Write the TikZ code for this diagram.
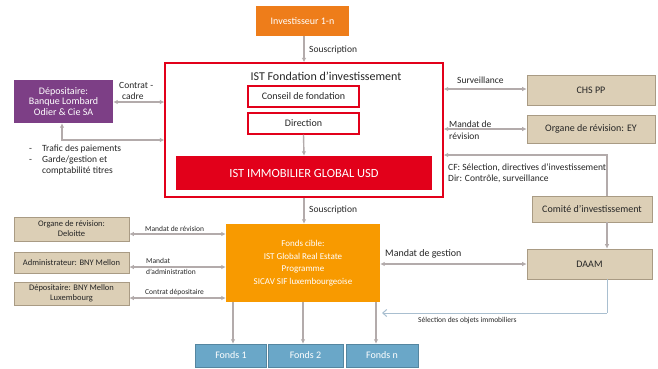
\documentclass[tikz,border=0pt]{standalone}
\usepackage{fontspec}
\setmainfont{Carlito}
\usetikzlibrary{arrows.meta}
\definecolor{lgrey}{HTML}{B3ABAB}
\definecolor{tan}{HTML}{DCCFB6}
\definecolor{tanb}{HTML}{A99B84}
\definecolor{ired}{HTML}{E2001A}
\definecolor{purp}{HTML}{7D3F86}
\definecolor{oinv}{HTML}{EE7D1A}
\definecolor{ofc}{HTML}{F89A00}
\definecolor{fblue}{HTML}{6AA7C8}
\definecolor{sblue}{HTML}{A9BFD0}
\definecolor{txt}{HTML}{262626}
\tikzset{
  tanbox/.style={draw=tanb, line width=0.6pt, fill=tan, inner sep=0pt, align=center, text=txt, font=\fontsize{10}{11}\selectfont},
  stanbox/.style={tanbox, font=\fontsize{8.5}{10}\selectfont},
  redbox/.style={draw=ired, line width=1.3pt, fill=white, inner sep=0pt, text=txt, font=\fontsize{10}{11}\selectfont},
  fbox/.style={fill=fblue, draw=fblue!80!black, line width=0.4pt, text=white, minimum height=23pt, inner sep=0pt, font=\fontsize{10}{11}\selectfont},
  ar/.style={draw=lgrey, line width=1.4pt, -{Latex[length=4.5pt,width=4.5pt]}},
  arr/.style={draw=lgrey, line width=1.4pt, {Latex[length=4.5pt,width=4.5pt]}-{Latex[length=4.5pt,width=4.5pt]}},
  lbl/.style={text=txt, inner sep=0pt, font=\fontsize{9.5}{11}\selectfont, align=left},
  slbl/.style={text=txt, inner sep=0pt, font=\fontsize{7.5}{8.5}\selectfont, align=left},
}
\begin{document}
\begin{tikzpicture}[x=1pt,y=-1pt]
\path[use as bounding box, fill=white] (0,0) rectangle (658,368);
% top investor
\node[fill=oinv, text=white, minimum width=93pt, minimum height=30pt, inner sep=0pt, font=\fontsize{10}{11}\selectfont] (inv) at (302.5,21) {Investisseur 1-n};
% big frame
\node[draw=ired, line width=1.3pt, minimum width=278pt, minimum height=134pt, inner sep=0pt] (frame) at (304,130) {};
\node[text=txt, inner sep=0pt, font=\fontsize{12}{13}\selectfont] (title) at (326,76) {IST Fondation d'investissement};
\node[redbox, minimum width=111pt, minimum height=21pt] (conseil) at (303.5,96.5) {Conseil de fondation};
\node[redbox, minimum width=111pt, minimum height=21pt] (direction) at (303.5,123.5) {Direction};
\node[fill=ired, text=white, minimum width=256pt, minimum height=34pt, inner sep=0pt, font=\fontsize{12.5}{14}\selectfont] (immo) at (304,173) {IST IMMOBILIER GLOBAL USD};
% left depositaire
\node[fill=purp, text=white, minimum width=99pt, minimum height=43pt, inner sep=0pt, align=center, font=\fontsize{10}{10.5}\selectfont] (lombard) at (63.5,101.5) {Dépositaire:\\Banque Lombard\\Odier \& Cie SA};
% right boxes
\node[tanbox, minimum width=128pt, minimum height=30pt] (chs) at (591,90) {CHS PP};
\node[tanbox, minimum width=128pt, minimum height=28pt] (ey) at (591,129) {Organe de révision: EY};
\node[tanbox, minimum width=120pt, minimum height=26pt] (comite) at (592,209) {Comité d'investissement};
\node[tanbox, minimum width=125pt, minimum height=30pt] (daam) at (589.5,264) {DAAM};
% target fund
\node[fill=ofc, text=white, minimum width=154pt, minimum height=78pt, inner sep=0pt, align=center, font=\fontsize{9}{12.5}\selectfont] (fc) at (303,263) {Fonds cible:\\IST Global Real Estate\\Programme\\SICAV SIF luxembourgeoise};
% left lower boxes
\node[stanbox, minimum width=115pt, minimum height=24pt] (deloitte) at (71.5,229) {Organe de révision:\\Deloitte};
\node[stanbox, minimum width=115pt, minimum height=21pt] (admin) at (71.5,262.5) {Administrateur: BNY Mellon};
\node[stanbox, minimum width=115pt, minimum height=23pt] (depbny) at (71.5,293.5) {Dépositaire: BNY Mellon\\Luxembourg};
% funds
\node[fbox, minimum width=71pt] (f1) at (231,355.5) {Fonds 1};
\node[fbox, minimum width=75pt] (f2) at (305.5,355.5) {Fonds 2};
\node[fbox, minimum width=72pt] (fn) at (382,355.5) {Fonds n};
% connectors top
\draw[ar] (inv.south -| 304,0) -- (frame.north -| 304,0);
\node[lbl, anchor=west] (sous1) at (309,50) {Souscription};
\draw[ar] (direction.south) -- (immo.north);
\draw[ar] (frame.south -| 304,0) -- (fc.north -| 304,0);
\node[lbl, anchor=west] (sous2) at (309,210) {Souscription};
% lombard
\draw[arr] (lombard.east |- 0,102) -- (frame.west |- 0,102);
\node[lbl, anchor=west] (contrat) at (119,85) {Contrat -};
\node[lbl, anchor=west] (cadre) at (122,96) {cadre};
\draw[arr] (lombard.south -| 62,0) |- (frame.west |- 0,140);
\node[lbl, anchor=west] (b1) at (29,150) {-};
\node[lbl, anchor=west] (b2) at (29,161) {-};
\node[lbl, anchor=north west, font=\fontsize{9.5}{11}\selectfont] (bullets) at (42,145) {Trafic des paiements\\Garde/gestion et\\comptabilité titres};
% right upper
\draw[arr] (frame.east |- 0,89) -- (chs.west |- 0,89);
\node[lbl, anchor=west] (surv) at (457,80) {Surveillance};
\draw[arr] (frame.east |- 0,129) -- (ey.west |- 0,129);
\node[lbl, anchor=west] (mandrev) at (449,124) {Mandat de};
\node[lbl, anchor=west] (mandrev2) at (449,136) {révision};
\draw[ar] (comite.north -| 607,0) |- (frame.east |- 0,155);
\node[lbl, anchor=north west] (cf) at (448,164) {CF: Sélection, directives d'investissement\\Dir: Contrôle, surveillance};
\draw[ar] (comite.south -| 607,0) -- (daam.north -| 607,0);
% mandat de gestion
\draw[arr] (fc.east |- 0,264) -- (daam.west |- 0,264);
\node[lbl, anchor=west, font=\fontsize{10}{11}\selectfont] (mges) at (385,254) {Mandat de gestion};
% selection
\coordinate (selend) at (382,313);
\draw[sblue, line width=1pt, dash pattern=on 1.5pt off 0.5pt, -{Straight Barb[length=4pt,width=7pt]}] (daam.south -| 607,0) |- (selend);
\node[slbl, anchor=west] (sel) at (418,321) {Sélection des objets immobiliers};
% left lower connectors
\draw[arr] (deloitte.east |- 0,234) -- (fc.west |- 0,234);
\node[slbl, anchor=west] (mdr) at (145,229) {Mandat de révision};
\draw[arr] (admin.east |- 0,267) -- (fc.west |- 0,267);
\node[slbl, anchor=west] (mda) at (146,261) {Mandat};
\node[slbl, anchor=west] (mda2) at (146,272) {d'administration};
\draw[arr] (depbny.east |- 0,298) -- (fc.west |- 0,298);
\node[slbl, anchor=west] (cdep) at (145,292) {Contrat dépositaire};
% funds arrows
\draw[ar] (fc.south -| 233,0) -- (f1.north -| 233,0);
\draw[ar] (fc.south -| 303,0) -- (f2.north -| 303,0);
\draw[ar] (fc.south -| 376,0) -- (fn.north -| 376,0);
\end{tikzpicture}
\end{document}
